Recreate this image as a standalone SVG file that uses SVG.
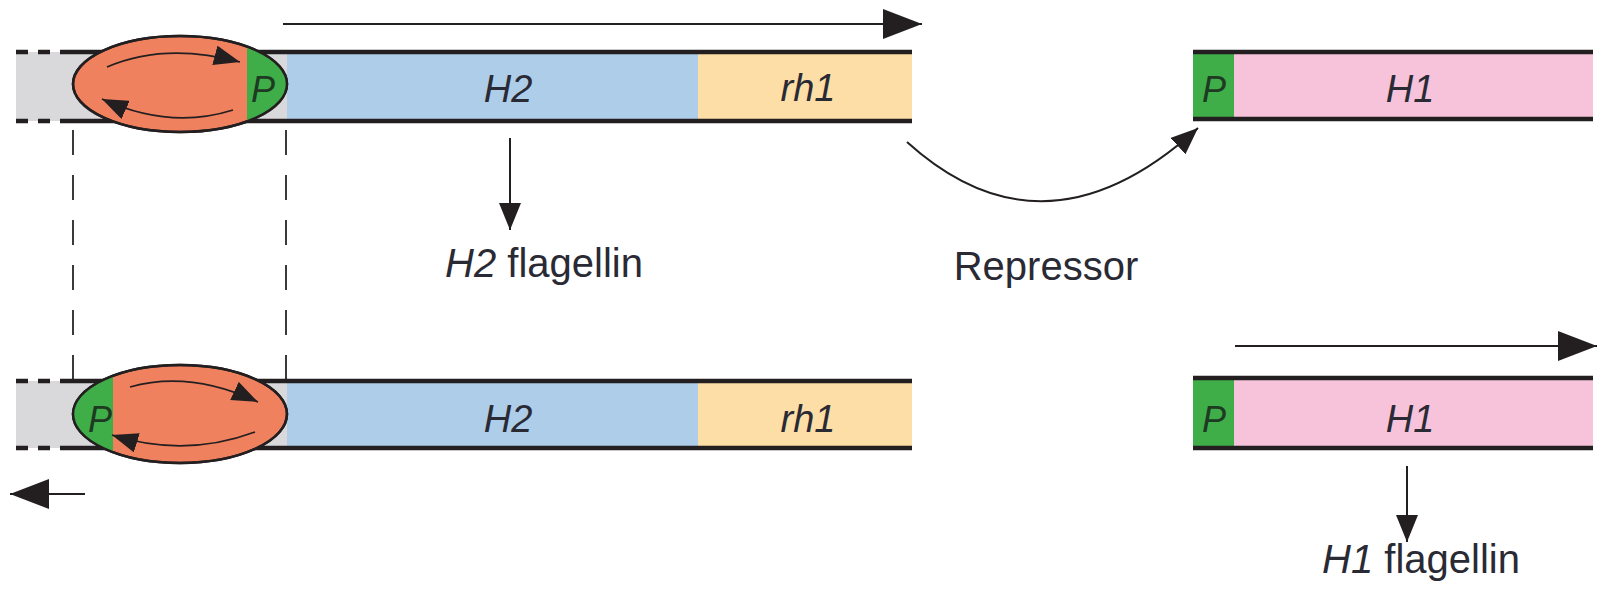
<svg xmlns="http://www.w3.org/2000/svg" width="1601" height="592" viewBox="0 0 1601 592">
<style>
.band{stroke:#231f20;stroke-width:4.5;fill:none}
.dash{stroke:#231f20;stroke-width:4.5;fill:none;stroke-dasharray:12 10}
.guide{stroke:#3a3a3a;stroke-width:2;fill:none;stroke-dasharray:25 20}
.ell{stroke:#231f20;stroke-width:2.5}
.conn{stroke:#231f20;stroke-width:2;fill:none}
.thin{stroke:#231f20;stroke-width:1.8;fill:none}
.gene{font-family:"Liberation Sans",Arial,sans-serif;font-style:italic;font-size:38px;fill:#2a2a35;text-anchor:middle}
.p{font-family:"Liberation Sans",Arial,sans-serif;font-style:italic;font-size:36px;fill:#1e3a22;text-anchor:middle}
.lbl{font-family:"Liberation Sans",Arial,sans-serif;font-size:40px;fill:#2a2a35;text-anchor:middle}
</style>
<defs>
<marker id="big" markerUnits="userSpaceOnUse" viewBox="0 0 39 30" refX="39" refY="15" markerWidth="39" markerHeight="30" orient="auto"><path d="M0,0 L39,15 L0,30 z" fill="#231f20"/></marker>
<marker id="mid" markerUnits="userSpaceOnUse" viewBox="0 0 27 22" refX="27" refY="11" markerWidth="27" markerHeight="22" orient="auto"><path d="M0,0 L27,11 L0,22 z" fill="#231f20"/></marker>
<marker id="inner" markerUnits="userSpaceOnUse" viewBox="0 0 26 20" refX="26" refY="10" markerWidth="26" markerHeight="20" orient="auto"><path d="M0,0 L26,10 L0,20 z" fill="#231f20"/></marker>
<clipPath id="clipTop"><ellipse cx="180" cy="84" rx="107" ry="48"/></clipPath>
<clipPath id="clipBot"><ellipse cx="180" cy="414" rx="107" ry="49"/></clipPath>
</defs>

<g id="guides">
<line class="guide" x1="73" y1="130" x2="73" y2="382"/>
<line class="guide" x1="286" y1="130" x2="286" y2="382"/>
</g>

<g id="top-operon">
<rect x="16" y="52" width="272" height="69" fill="#d9d9db"/>
<rect x="287" y="52" width="412" height="69" fill="#aecde9"/>
<rect x="698" y="52" width="214" height="69" fill="#fddea6"/>
<path class="dash" d="M16,52 H60 M16,121 H60" stroke-dasharray="12 10"/>
<path class="band" d="M60,52 H912 M60,121 H912"/>
<text class="gene" x="508" y="102">H2</text>
<text class="gene" x="808" y="101">rh1</text>
</g>

<g id="top-invertible">
<ellipse class="ell" cx="180" cy="84" rx="107" ry="48" fill="#f0815f"/>
<rect x="247" y="30" width="50" height="110" fill="#3fae49" clip-path="url(#clipTop)"/>
<ellipse class="ell" cx="180" cy="84" rx="107" ry="48" fill="none"/>
<text class="p" x="263" y="102">P</text>
<path class="thin" d="M107,67 Q165,42 240,62" marker-end="url(#inner)"/>
<path class="thin" d="M233,110 Q170,130 102,99" marker-end="url(#inner)"/>
</g>

<g id="bottom-operon">
<rect x="16" y="381" width="272" height="67" fill="#d9d9db"/>
<rect x="287" y="381" width="412" height="67" fill="#aecde9"/>
<rect x="698" y="381" width="214" height="67" fill="#fddea6"/>
<path class="dash" d="M16,381 H60 M16,448 H60"/>
<path class="band" d="M60,381 H912 M60,448 H912"/>
<text class="gene" x="508" y="432">H2</text>
<text class="gene" x="808" y="432">rh1</text>
</g>

<g id="bottom-invertible">
<ellipse class="ell" cx="180" cy="414" rx="107" ry="49" fill="#f0815f"/>
<rect x="60" y="360" width="53" height="110" fill="#3fae49" clip-path="url(#clipBot)"/>
<ellipse class="ell" cx="180" cy="414" rx="107" ry="49" fill="none"/>
<text class="p" x="100" y="432">P</text>
<path class="thin" d="M130,387 Q190,370 258,402" marker-end="url(#inner)"/>
<path class="thin" d="M255,432 Q185,458 112,435" marker-end="url(#inner)"/>
</g>

<g id="h1-top">
<rect x="1193" y="52" width="41" height="67" fill="#3fae49"/>
<rect x="1234" y="52" width="359" height="67" fill="#f6c3da"/>
<path class="band" d="M1193,52 H1593 M1193,119 H1593"/>
<text class="p" x="1214" y="102">P</text>
<text class="gene" x="1410" y="102">H1</text>
</g>

<g id="h1-bottom">
<rect x="1193" y="378" width="41" height="70" fill="#3fae49"/>
<rect x="1234" y="378" width="359" height="70" fill="#f6c3da"/>
<path class="band" d="M1193,378 H1593 M1193,448 H1593"/>
<text class="p" x="1214" y="432">P</text>
<text class="gene" x="1410" y="432">H1</text>
</g>

<g id="labels">
<text class="lbl" x="544" y="277"><tspan font-style="italic">H2</tspan> flagellin</text>
<text class="lbl" x="1046" y="280">Repressor</text>
<text class="lbl" x="1421" y="573"><tspan font-style="italic">H1</tspan> flagellin</text>
</g>

<g id="connectors">
<line class="conn" x1="283" y1="24" x2="922" y2="24" marker-end="url(#big)"/>
<line class="conn" x1="1235" y1="346" x2="1597" y2="346" marker-end="url(#big)"/>
<line class="conn" x1="85" y1="494" x2="10" y2="494" marker-end="url(#big)"/>
<line class="conn" x1="510" y1="138" x2="510" y2="230" marker-end="url(#mid)"/>
<line class="conn" x1="1407" y1="466" x2="1407" y2="542" marker-end="url(#mid)"/>
<path class="conn" d="M907,142 Q1045,267 1198,128" marker-end="url(#mid)"/>
</g>
</svg>
